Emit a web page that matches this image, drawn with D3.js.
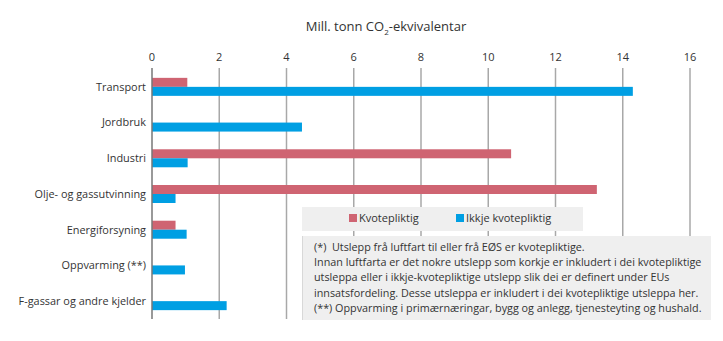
<!DOCTYPE html>
<html>
<head>
<meta charset="utf-8">
<script src="https://cdn.jsdelivr.net/npm/d3@7"></script>
<style>
body { margin: 0; background: #fff; }
text { font-family: "Open Sans", "Liberation Sans", sans-serif; fill: #333; }
</style>
</head>
<body>
<svg id="chart" width="723" height="341"></svg>
<script>
var categories = ["Transport", "Jordbruk", "Industri", "Olje- og gassutvinning", "Energiforsyning", "Oppvarming (**)", "F-gassar og andre kjelder"];
var kvotepliktig = [1.05, 0, 10.68, 13.23, 0.7, 0, 0];
var ikkjeKvotepliktig = [14.3, 4.46, 1.06, 0.7, 1.03, 0.98, 2.22];
var xTicks = [0, 2, 4, 6, 8, 10, 12, 14, 16];
var seriesNames = ["Kvotepliktig", "Ikkje kvotepliktig"];
var noteLines = [
	"(*)  Utslepp frå luftfart til eller frå EØS er kvotepliktige.",
	"Innan luftfarta er det nokre utslepp som korkje er inkludert i dei kvotepliktige",
	"utsleppa eller i ikkje-kvotepliktige utslepp slik dei er definert under EUs",
	"innsatsfordeling. Desse utsleppa er inkludert i dei kvotepliktige utsleppa her.",
	"(**) Oppvarming i primærnæringar, bygg og anlegg, tjenesteyting og hushald."
];

var kvoteColor = "#cf6472";
var ikkjeColor = "#009fe3";
var gridColor = "#a8a8a8";

var svg = d3.select("#chart");

var x = d3.scaleLinear().domain([0, 16]).range([152, 690]);
var y = d3.scaleBand().domain(categories).range([69, 319]).paddingInner(0).paddingOuter(0);
var barH = 9;

//////// Title
var title = svg.append("text")
	.attr("x", 386).attr("y", 31)
	.attr("text-anchor", "middle")
	.style("font-size", "13px");
title.append("tspan").text("Mill. tonn CO");
title.append("tspan").attr("dy", 4).style("font-size", "8px").text("2");
title.append("tspan").attr("dy", -4).text("-ekvivalentar");

//////// Grid
svg.append("g").selectAll("line")
	.data(xTicks.slice(1))
	.join("line")
	.attr("x1", d => x(d)).attr("x2", d => x(d))
	.attr("y1", 68).attr("y2", 319)
	.attr("stroke", gridColor).attr("stroke-width", 1.5);

//////// Top axis labels
svg.append("g").selectAll("text")
	.data(xTicks)
	.join("text")
	.attr("x", d => x(d)).attr("y", 61)
	.attr("text-anchor", "middle")
	.style("font-size", "11px")
	.text(d => d);

//////// Bars
var groups = svg.append("g").selectAll("g")
	.data(categories)
	.join("g");

groups.append("rect")
	.attr("x", x(0))
	.attr("y", d => y(d) + y.bandwidth() / 2 - barH)
	.attr("width", (d, i) => x(kvotepliktig[i]) - x(0))
	.attr("height", barH)
	.attr("fill", kvoteColor);

groups.append("rect")
	.attr("x", x(0))
	.attr("y", d => y(d) + y.bandwidth() / 2)
	.attr("width", (d, i) => x(ikkjeKvotepliktig[i]) - x(0))
	.attr("height", barH)
	.attr("fill", ikkjeColor);

//////// Category labels
groups.append("text")
	.attr("x", 146)
	.attr("y", d => y(d) + y.bandwidth() / 2 + 1)
	.attr("text-anchor", "end")
	.attr("dominant-baseline", "middle")
	.style("font-size", "10.9px")
	.text(d => d);

//////// Zero axis
svg.append("line")
	.attr("x1", x(0)).attr("x2", x(0))
	.attr("y1", 68).attr("y2", 319)
	.attr("stroke", "#777").attr("stroke-width", 1.5);

//////// Legend box
svg.append("rect")
	.attr("x", 302).attr("y", 207).attr("width", 281).attr("height", 24)
	.attr("fill", "#efefef");

var legendX = [349, 456];
var legend = svg.append("g").selectAll("g")
	.data(seriesNames)
	.join("g")
	.attr("transform", (d, i) => "translate(" + legendX[i] + ",214)");
legend.append("rect")
	.attr("width", 8).attr("height", 8)
	.attr("fill", (d, i) => i == 0 ? kvoteColor : ikkjeColor);
legend.append("text")
	.attr("x", 10).attr("y", 8)
	.style("font-size", "11px")
	.text(d => d);

//////// Note box
svg.append("rect")
	.attr("x", 302).attr("y", 236).attr("width", 409).attr("height", 84)
	.attr("fill", "#efefef");
svg.append("line")
	.attr("x1", 302.5).attr("x2", 302.5).attr("y1", 236).attr("y2", 320)
	.attr("stroke", "#d8d8d8");

svg.append("g").selectAll("text")
	.data(noteLines)
	.join("text")
	.attr("x", 314)
	.attr("y", (d, i) => 251 + i * 15.2)
	.style("font-size", "10.8px")
	.style("white-space", "pre")
	.text(d => d);
</script>
</body>
</html>
